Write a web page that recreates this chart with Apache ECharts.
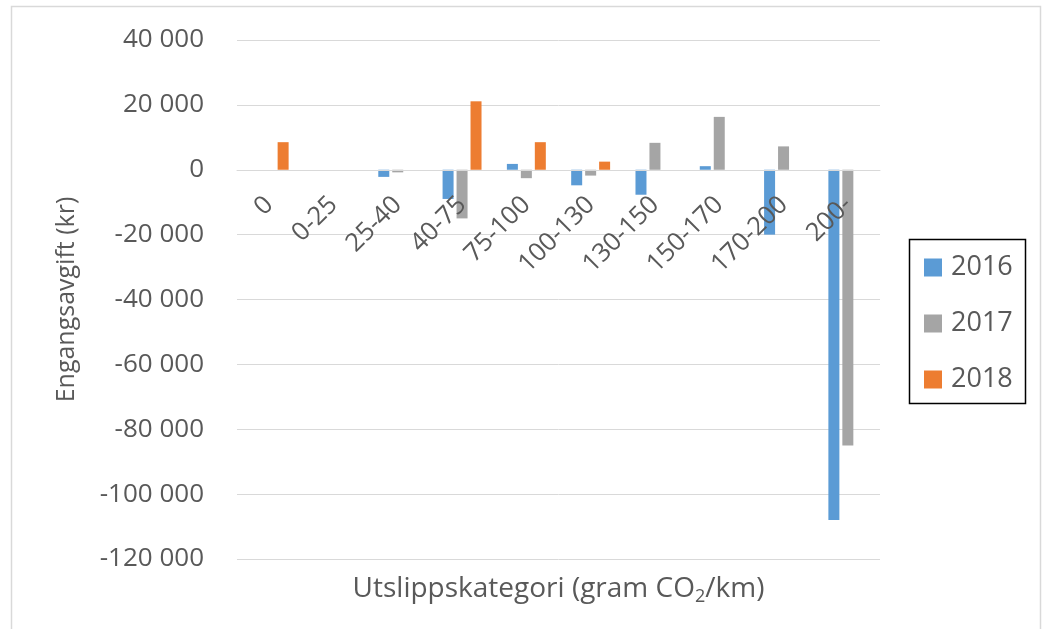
<!DOCTYPE html>
<html>
<head>
<meta charset="utf-8">
<script src="https://cdn.jsdelivr.net/npm/echarts@6/dist/echarts.min.js"></script>
<style>
html,body{margin:0;padding:0;background:#fff;}
#chart{width:1046px;height:629px;}
</style>
</head>
<body>
<div id="chart"></div>
<script>
const categories = ['0','0-25','25-40','40-75','75-100','100-130','130-150','150-170','170-200','200-'];
const seriesNames = ['2016','2017','2018'];
const values2016 = [null, null, -2200, -9000, 1800, -4800, -7700, 1100, -20000, -108000];
const values2017 = [null, null, -800, -15000, -2600, -1800, 8300, 16300, 7200, -85000];
const values2018 = [8500, null, null, 21100, 8500, 2500, null, null, null, null];
const yTicks = {min: -120000, max: 40000, interval: 20000};

const colors = ['#5B9BD5', '#A5A5A5', '#ED7D31'];
const textColor = '#595959';
const font = 'Open Sans';

function fmt(v){
  const s = String(Math.abs(v)).replace(/\B(?=(\d{3})+(?!\d))/g, ' ');
  return (v < 0 ? '-' : '') + s;
}

const gridTop = 40, gridBottom = 70, chartH = 629;
const plotH = chartH - gridTop - gridBottom;
// distance from bottom of plot to the zero line (via the axis range)
const zeroOffset = plotH * (0 - yTicks.min) / (yTicks.max - yTicks.min);

const chart = echarts.init(document.getElementById('chart'));
const dataSets = [values2016, values2017, values2018];

chart.setOption({
  animation: false,
  textStyle: {fontFamily: font},
  grid: {left: 237, right: 166, top: gridTop, bottom: gridBottom, containLabel: false, outerBoundsMode: 'none'},
  graphic: [
    {type: 'rect', shape: {x: 11.5, y: 6.5, width: 1029, height: 640}, style: {fill: 'none', stroke: '#D9D9D9', lineWidth: 1.5}, silent: true},
    {type: 'rect', shape: {x: 909.5, y: 239.5, width: 116, height: 164}, style: {fill: '#fff', stroke: '#000', lineWidth: 1.5}, silent: true, z: 0}
  ],
  legend: {
    orient: 'vertical',
    left: 924, top: 254,
    padding: 0,
    itemWidth: 18, itemHeight: 18,
    itemGap: 29,
    icon: 'rect',
    data: seriesNames,
    textStyle: {color: textColor, fontSize: 27, fontFamily: font, lineHeight: 25, padding: [0,0,0,4]},
    z: 10
  },
  xAxis: {
    type: 'category',
    data: categories,
    position: 'bottom',
    offset: -zeroOffset,
    z: 5,
    axisLine: {onZero: false, lineStyle: {color: '#D9D9D9', width: 1}},
    axisTick: {show: false},
    axisLabel: {rotate: 45, interval: 0, color: textColor, fontSize: 25.5, fontFamily: font, margin: 31},
    name: 'Utslippskategori (gram CO{sub|2}/km)',
    nameLocation: 'middle',
    nameGap: 402,
    nameTextStyle: {color: textColor, fontSize: 28, fontFamily: font,
      rich: {sub: {fontSize: 18, color: textColor, fontFamily: font, padding: [16,0,0,0]}}}
  },
  yAxis: {
    type: 'value',
    min: yTicks.min, max: yTicks.max, interval: yTicks.interval,
    axisLine: {show: false},
    axisTick: {show: false},
    splitLine: {lineStyle: {color: '#D9D9D9', width: 1}},
    axisLabel: {color: textColor, fontSize: 26, fontFamily: font, margin: 33, formatter: fmt},
    name: 'Engangsavgift (kr)',
    nameLocation: 'middle',
    nameRotate: 90,
    nameGap: 158,
    nameTextStyle: {color: textColor, fontSize: 25, fontFamily: font}
  },
  series: seriesNames.map((n, i) => ({
    name: n,
    type: 'bar',
    z: 2,
    data: dataSets[i],
    barWidth: 11,
    barGap: '27%',
    itemStyle: {color: colors[i]}
  }))
});
</script>
</body>
</html>
